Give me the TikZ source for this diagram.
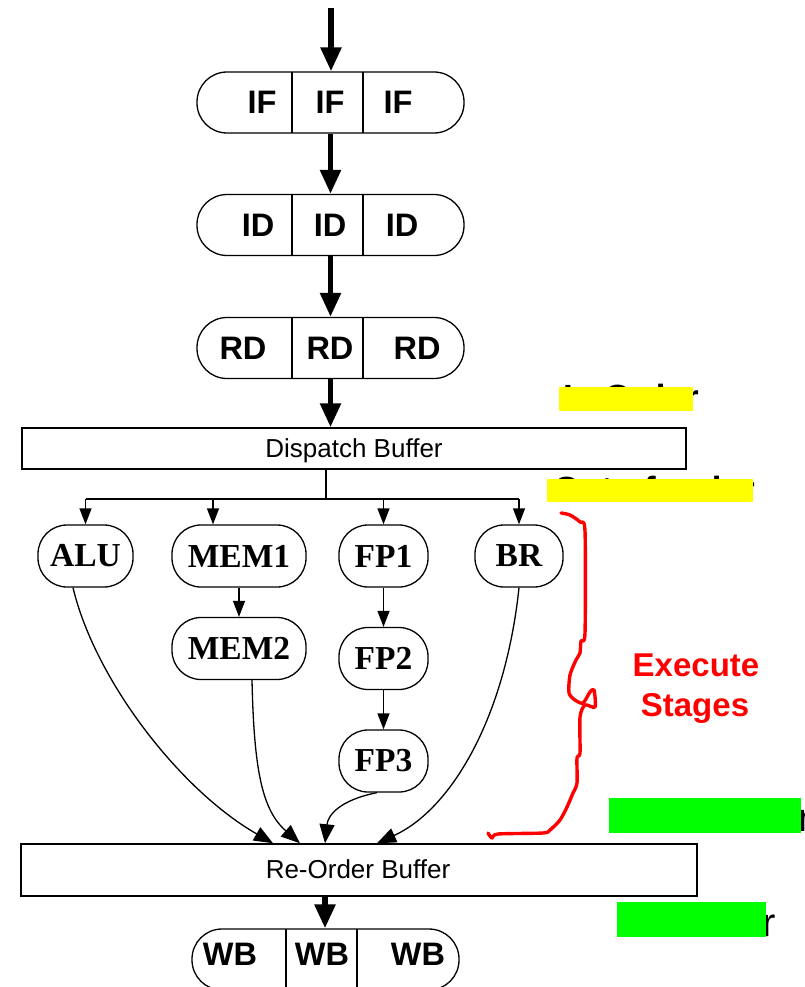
\documentclass[tikz,border=0pt]{standalone}
\usepackage{fontspec}
\setmainfont{Liberation Sans}
\newfontfamily\unitfont{Liberation Serif}
\usetikzlibrary{arrows.meta}
\definecolor{hiyellow}{RGB}{255,255,0}
\definecolor{higreen}{RGB}{0,255,0}
\definecolor{penred}{RGB}{255,0,0}
\begin{document}
\begin{tikzpicture}[x=1pt,y=-1pt,
  pill/.style={draw, line width=1.3pt, rounded corners=30pt, minimum width=267pt,
    minimum height=61pt, inner sep=0pt},
  slot/.style={inner sep=0pt, font=\bfseries\fontsize{32.5}{36}\selectfont},
  unit/.style={draw, line width=1.3pt, rounded corners=29pt, minimum height=62pt,
    inner sep=0pt, font=\unitfont\bfseries\fontsize{33.5}{38}\selectfont},
  buffer/.style={draw, line width=1.5pt, inner sep=0pt},
  buftext/.style={inner sep=0pt, anchor=base, font=\fontsize{26}{30}\selectfont},
  thinarrow/.style={line width=1.3pt, -{Triangle[length=16pt,width=12pt]}},
  robarrow/.style={line width=1.3pt, -{Triangle[length=19pt,width=15pt]}},
  fatarrow/.style={line width=5.5pt, -{Triangle[length=24pt,width=20pt]}},
  note/.style={inner sep=0pt, anchor=base west, font=\bfseries\fontsize{35}{40}\selectfont},
  notereg/.style={inner sep=0pt, anchor=base west, font=\fontsize{40}{44}\selectfont},
  exectext/.style={inner sep=0pt, anchor=base, text=penred,
    font=\bfseries\fontsize{33}{40}\selectfont}]
\useasboundingbox (0,0) rectangle (805,987);
\fill[white] (0,0) rectangle (805,987);

% ---------- in-order front end ----------
\node[pill] (if) at (330.5,102.5) {};
\draw[line width=1.3pt] (292,72) -- (292,133) (363,72) -- (363,133);
\node[slot] (if1) at (262,102.5) {IF};
\node[slot] (if2) at (330,102.5) {IF};
\node[slot] (if3) at (398,102.5) {IF};

\node[pill] (id) at (330.5,225) {};
\draw[line width=1.3pt] (292,194.5) -- (292,255.5) (363,194.5) -- (363,255.5);
\node[slot] (id1) at (258,225) {ID};
\node[slot] (id2) at (330,225) {ID};
\node[slot] (id3) at (402,225) {ID};

\node[pill] (rd) at (330.5,348) {};
\draw[line width=1.3pt] (292,317.5) -- (292,378.5) (363,317.5) -- (363,378.5);
\node[slot] (rd1) at (243,348) {RD};
\node[slot] (rd2) at (330,348) {RD};
\node[slot] (rd3) at (417,348) {RD};

\node[buffer, minimum width=664pt, minimum height=41pt] (disp) at (354,448.5) {};
\node[buftext] (disptext) at (354,457) {Dispatch Buffer};

\coordinate (in) at (331,8);
\draw[fatarrow] (in) -- (in |- if.north);
\draw[fatarrow] (if.south) -- (id.north);
\draw[fatarrow] (id.south) -- (rd.north);
\draw[fatarrow] (rd.south) -- (rd.south |- disp.north);

% ---------- execution units ----------
\node[unit, minimum width=95pt]  (alu)  at (85.5,556)   {ALU};
\node[unit, minimum width=134pt] (mem1) at (239,556)    {MEM1};
\node[unit, minimum width=89pt]  (fp1)  at (383.5,556)  {FP1};
\node[unit, minimum width=88pt]  (br)   at (519,556)    {BR};
\node[unit, minimum width=134pt] (mem2) at (239,648.5)  {MEM2};
\node[unit, minimum width=89pt]  (fp2)  at (383.5,658.5){FP2};
\node[unit, minimum width=89pt]  (fp3)  at (383.5,761)  {FP3};

\coordinate (fan) at (326,499);
\coordinate (memin) at (213,499);
\draw[line width=1.3pt] (disp.south -| fan) -- (fan);
\draw[line width=1.3pt] (alu.north |- fan) -- (br.north |- fan);
\draw[thinarrow] (alu.north |- fan) -- (alu.north);
\draw[thinarrow] (memin) -- (memin |- mem1.north);
\draw[thinarrow] (fp1.north |- fan) -- (fp1.north);
\draw[thinarrow] (br.north |- fan) -- (br.north);
\draw[thinarrow] (mem1.south) -- (mem2.north);
\draw[thinarrow] (fp1.south) -- (fp2.north);
\draw[thinarrow] (fp2.south) -- (fp3.north);

% ---------- re-order buffer and write back ----------
\node[buffer, minimum width=676pt, minimum height=52pt] (rob) at (359,870) {};
\node[buftext] (robtext) at (358,878) {Re-Order Buffer};

\draw[robarrow] ([xshift=-12.5pt]alu.south) .. controls (95,680) and (180,790) .. ([xshift=-86pt]rob.north);
\draw[robarrow] ([xshift=13pt]mem2.south) .. controls (254,770) and (262,810) .. ([xshift=-59pt]rob.north);
\draw[robarrow] ([xshift=-6.5pt]fp3.south) .. controls (340,800) and (328,815) .. ([xshift=-34pt]rob.north);
\draw[robarrow] (br.south) .. controls (505,720) and (450,810) .. ([xshift=18pt]rob.north);

\node[pill] (wb) at (325.5,959.5) {};
\draw[line width=1.3pt] (286,929) -- (286,990) (357,929) -- (357,990);
\node[slot] (wb1) at (230,954) {WB};
\node[slot] (wb2) at (322,954) {WB};
\node[slot] (wb3) at (418,954) {WB};
\draw[fatarrow] ([xshift=-34pt]rob.south) -- ([xshift=-34pt]rob.south |- wb.north);

% ---------- side notes, partly covered by highlights ----------
\node[note] (n1) at (563,409) {In Order};
\fill[hiyellow] (559,387) rectangle (693,411);
\node[note] (n2) at (553,501) {Out of order};
\fill[hiyellow] (547,479) rectangle (753,502);
\node[notereg] (n3) at (665,831) {In Order};
\fill[higreen] (609,798) rectangle (801,833);
\node[notereg] (n4) at (629,936) {In Order};
\fill[higreen] (617,902) rectangle (766,937);

% ---------- hand-drawn brace ----------
\draw[penred, line width=3.4pt, line cap=round, line join=round]
  plot[smooth, tension=0.45] coordinates {
    (561,513) (570,515) (580,522) (585,531) (585,633) (581,641) (580,653)
    (576,660) (570,675) (569,693) (575,700) (583,703) (590,692) (594,690)
    (595,707) (585,705) (580,717) (580,753) (577,758) (577,783) (573,793)
    (567,807) (560,820) (550,830) (543,833) (498,834) (492,838) (488,833)};
\node[exectext] (exec1) at (696,676) {Execute};
\node[exectext] (exec2) at (695,716) {Stages};
\end{tikzpicture}
\end{document}
